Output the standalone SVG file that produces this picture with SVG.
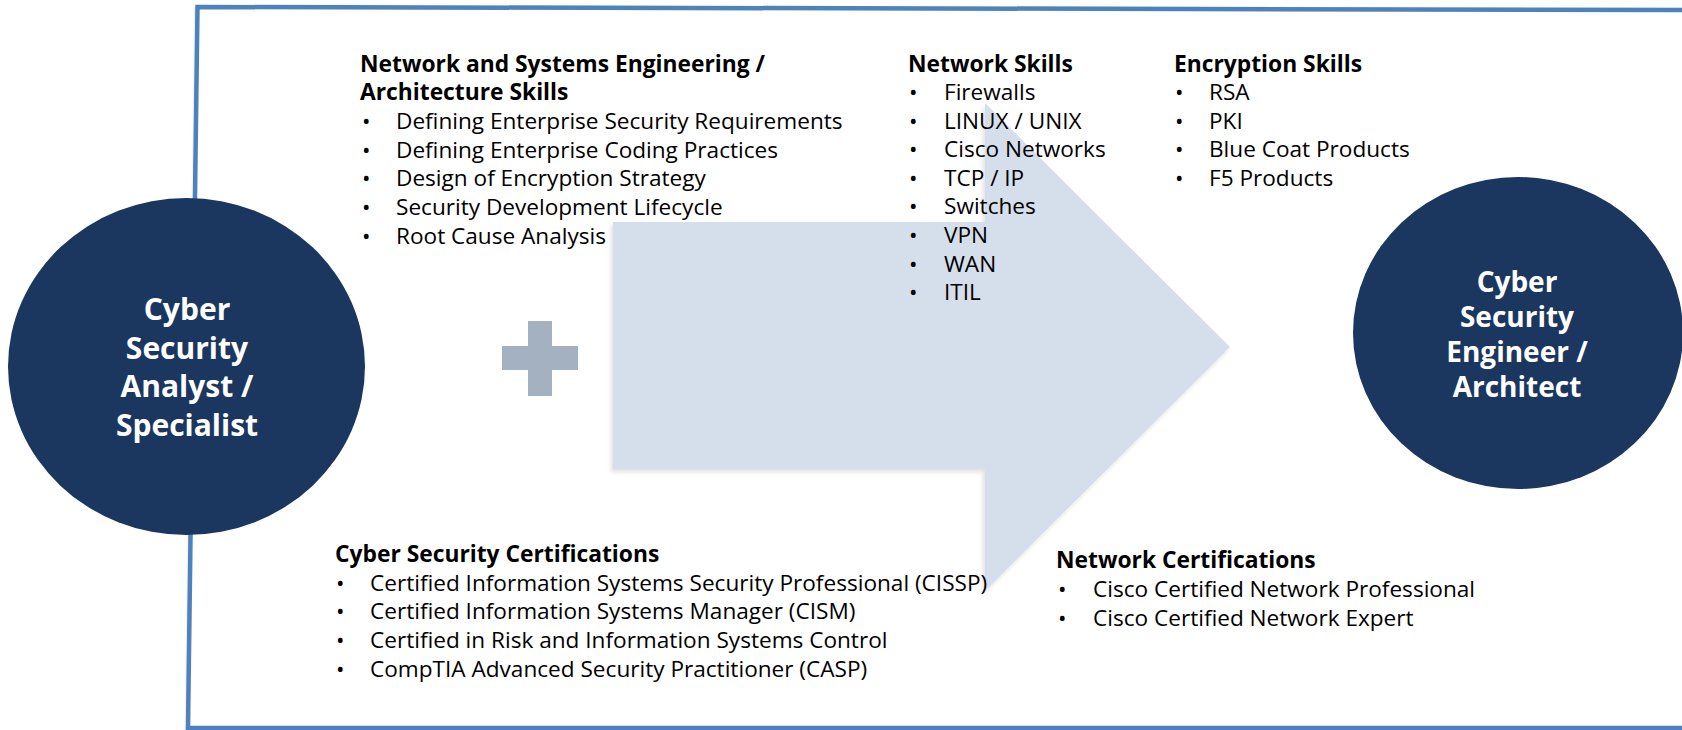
<svg xmlns="http://www.w3.org/2000/svg" width="1682" height="730" viewBox="0 0 1682 730">
<defs>
<filter id="frameShadow" x="-5%" y="-5%" width="110%" height="110%">
<feDropShadow dx="1" dy="2" stdDeviation="1.5" flood-color="#000" flood-opacity="0.35"/>
</filter>
<filter id="softShadow" x="-5%" y="-5%" width="110%" height="110%">
<feDropShadow dx="-2" dy="3" stdDeviation="2" flood-color="#000" flood-opacity="0.12"/>
</filter>
<style>
.frame{fill:#ffffff;stroke:#4f81bd;stroke-width:4.5;}
.arrow{fill:#d5dfeb;}
.plus{fill:#a4b1c1;}
.circle{fill:#1b375f;}
.ctext{font-family:"Open Sans","Noto Sans",sans-serif;font-weight:bold;fill:#ffffff;text-anchor:middle;}
.head{font-family:"Open Sans","Noto Sans",sans-serif;font-weight:bold;font-size:22.8px;fill:#000000;}
.item{font-family:"Open Sans","Noto Sans",sans-serif;font-size:22.6px;fill:#000000;}
</style>
</defs>
<rect width="1682" height="730" fill="#ffffff"/>
<g id="frame">
<polygon class="frame" filter="url(#frameShadow)" points="197.5,7 1700,10 1700,728 188,728"/>
</g>
<g id="connectors">
<g id="arrow" filter="url(#softShadow)">
<polygon class="arrow" points="613,222 985,222 985,103 1230,347 985,591 985,469 613,469"/>
</g>
</g>
<g id="plus">
<rect class="plus" x="528" y="321" width="24" height="75"/>
<rect class="plus" x="502" y="346" width="76" height="24"/>
</g>
<g id="analyst">
<ellipse class="circle" cx="186.5" cy="366.5" rx="178.5" ry="168.5"/>
<text class="ctext" font-size="30" x="187"><tspan x="187" y="320">Cyber</tspan><tspan x="187" y="358.5">Security</tspan><tspan x="187" y="397">Analyst /</tspan><tspan x="187" y="435.5">Specialist</tspan></text>
</g>
<g id="engineer">
<ellipse class="circle" cx="1518" cy="333" rx="165" ry="156"/>
<text class="ctext" font-size="28" x="1517"><tspan x="1517" y="292">Cyber</tspan><tspan x="1517" y="327">Security</tspan><tspan x="1517" y="362">Engineer /</tspan><tspan x="1517" y="397">Architect</tspan></text>
</g>
<g id="arch-skills">
<text class="head" x="360" y="71.5">Network and Systems Engineering /</text>
<text class="head" x="360" y="100">Architecture Skills</text>
<text class="item"><tspan x="362" y="129">•</tspan><tspan x="396" y="129">Defining Enterprise Security Requirements</tspan></text>
<text class="item"><tspan x="362" y="157.5">•</tspan><tspan x="396" y="157.5">Defining Enterprise Coding Practices</tspan></text>
<text class="item"><tspan x="362" y="186">•</tspan><tspan x="396" y="186">Design of Encryption Strategy</tspan></text>
<text class="item"><tspan x="362" y="215">•</tspan><tspan x="396" y="215">Security Development Lifecycle</tspan></text>
<text class="item"><tspan x="362" y="243.5">•</tspan><tspan x="396" y="243.5">Root Cause Analysis</tspan></text>
</g>
<g id="network-skills">
<text class="head" x="908" y="71.5">Network Skills</text>
<text class="item"><tspan x="909" y="100">•</tspan><tspan x="944" y="100">Firewalls</tspan></text>
<text class="item"><tspan x="909" y="128.5">•</tspan><tspan x="944" y="128.5">LINUX / UNIX</tspan></text>
<text class="item"><tspan x="909" y="157">•</tspan><tspan x="944" y="157">Cisco Networks</tspan></text>
<text class="item"><tspan x="909" y="185.5">•</tspan><tspan x="944" y="185.5">TCP / IP</tspan></text>
<text class="item"><tspan x="909" y="214">•</tspan><tspan x="944" y="214">Switches</tspan></text>
<text class="item"><tspan x="909" y="243">•</tspan><tspan x="944" y="243">VPN</tspan></text>
<text class="item"><tspan x="909" y="271.5">•</tspan><tspan x="944" y="271.5">WAN</tspan></text>
<text class="item"><tspan x="909" y="300">•</tspan><tspan x="944" y="300">ITIL</tspan></text>
</g>
<g id="encryption-skills">
<text class="head" x="1174" y="71.5">Encryption Skills</text>
<text class="item"><tspan x="1175" y="100">•</tspan><tspan x="1209" y="100">RSA</tspan></text>
<text class="item"><tspan x="1175" y="128.5">•</tspan><tspan x="1209" y="128.5">PKI</tspan></text>
<text class="item"><tspan x="1175" y="157">•</tspan><tspan x="1209" y="157">Blue Coat Products</tspan></text>
<text class="item"><tspan x="1175" y="185.5">•</tspan><tspan x="1209" y="185.5">F5 Products</tspan></text>
</g>
<g id="cyber-certs">
<text class="head" x="335" y="562">Cyber Security Certifications</text>
<text class="item"><tspan x="336" y="590.5">•</tspan><tspan x="370" y="590.5">Certified Information Systems Security Professional (CISSP)</tspan></text>
<text class="item"><tspan x="336" y="619">•</tspan><tspan x="370" y="619">Certified Information Systems Manager (CISM)</tspan></text>
<text class="item"><tspan x="336" y="648">•</tspan><tspan x="370" y="648">Certified in Risk and Information Systems Control</tspan></text>
<text class="item"><tspan x="336" y="676.5">•</tspan><tspan x="370" y="676.5">CompTIA Advanced Security Practitioner (CASP)</tspan></text>
</g>
<g id="network-certs">
<text class="head" x="1056" y="568">Network Certifications</text>
<text class="item"><tspan x="1058" y="597">•</tspan><tspan x="1093" y="597">Cisco Certified Network Professional</tspan></text>
<text class="item"><tspan x="1058" y="626">•</tspan><tspan x="1093" y="626">Cisco Certified Network Expert</tspan></text>
</g>
</svg>
